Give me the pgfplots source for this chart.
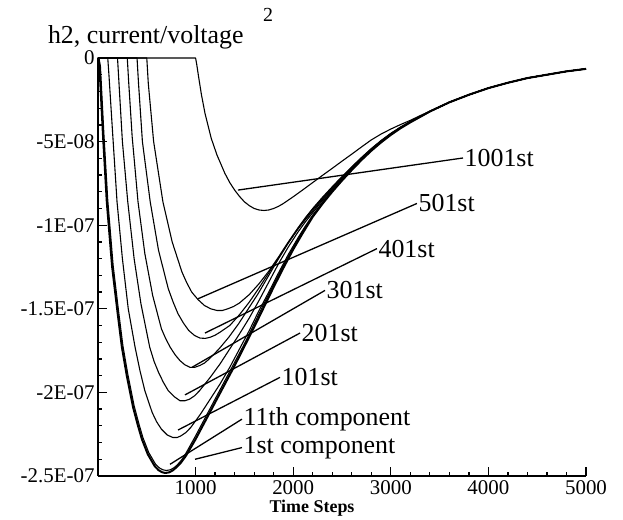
\documentclass[border=0pt]{standalone}
\usepackage{fontspec}
\setmainfont{Liberation Serif}
\usepackage{pgfplots}
\pgfplotsset{compat=1.18}
\begin{document}
\begin{tikzpicture}
\begin{axis}[
  scale only axis, width=488bp, height=418bp,
  xmin=0, xmax=5000, ymin=-2.5e-7, ymax=0,
  axis x line*=bottom, axis y line*=left,
  xtick={1000,2000,3000,4000,5000},
  xticklabels={1000,2000,3000,4000,5000},
  ytick={-2.5e-7,-2e-7,-1.5e-7,-1e-7,-5e-8,0},
  yticklabels={-2.5E-07,-2E-07,-1.5E-07,-1E-07,-5E-08,0},
  scaled y ticks=false, scaled x ticks=false,
  minor x tick num=4, minor y tick num=4,
  tick align=inside, major tick length=9bp, minor tick length=4bp,
  every tick/.style={black, line width=1.3bp},
  axis line style={line width=2.5bp},
  tick label style={font=\fontsize{21}{24}\selectfont},
  xticklabel style={yshift=-1bp},
  clip=false,
  cycle list={{black, no markers}},
  every axis plot/.append style={black, line width=1.1bp, line join=round},
]
% 1st component
\addplot[line width=2bp] coordinates {(0,0)(15,-0.05e-7)(50,-0.45e-7)(90,-0.86e-7)(145,-1.25e-7)(200,-1.52e-7)(245,-1.73e-7)(295,-1.9e-7)(360,-2.09e-7)(410,-2.2e-7)(450,-2.28e-7)(510,-2.37e-7)(580,-2.44e-7)(620,-2.465e-7)(655,-2.477e-7)(690,-2.482e-7)(730,-2.478e-7)(765,-2.467e-7)(800,-2.45e-7)(850,-2.42e-7)(900,-2.38e-7)(1000,-2.28e-7)(1100,-2.17e-7)(1200,-2.06e-7)(1300,-1.95e-7)(1400,-1.84e-7)(1500,-1.725e-7)(1600,-1.61e-7)(1700,-1.49e-7)(1800,-1.37e-7)(1900,-1.255e-7)(2000,-1.145e-7)(2100,-1.045e-7)(2200,-0.95e-7)(2300,-0.872e-7)(2400,-0.80e-7)(2500,-0.733e-7)(2600,-0.67e-7)(2700,-0.61e-7)(2800,-0.555e-7)(2900,-0.505e-7)(3000,-0.46e-7)(3100,-0.42e-7)(3200,-0.385e-7)(3400,-0.32e-7)(3600,-0.265e-7)(3800,-0.22e-7)(4000,-0.18e-7)(4200,-0.148e-7)(4400,-0.12e-7)(4600,-0.10e-7)(4800,-0.08e-7)(5000,-0.065e-7)};
% 11th component
\addplot coordinates {(0,0)(10,0)(25,-0.05e-7)(60,-0.45e-7)(100,-0.85e-7)(155,-1.24e-7)(210,-1.51e-7)(255,-1.72e-7)(305,-1.89e-7)(370,-2.08e-7)(420,-2.19e-7)(460,-2.27e-7)(520,-2.36e-7)(590,-2.43e-7)(630,-2.452e-7)(665,-2.463e-7)(700,-2.467e-7)(740,-2.463e-7)(775,-2.452e-7)(810,-2.435e-7)(855,-2.405e-7)(900,-2.365e-7)(1000,-2.26e-7)(1100,-2.15e-7)(1200,-2.04e-7)(1300,-1.93e-7)(1400,-1.82e-7)(1500,-1.71e-7)(1600,-1.59e-7)(1700,-1.47e-7)(1800,-1.355e-7)(1900,-1.24e-7)(2000,-1.135e-7)(2100,-1.035e-7)(2200,-0.945e-7)(2300,-0.868e-7)(2400,-0.797e-7)(2500,-0.73e-7)(2600,-0.668e-7)(2700,-0.608e-7)(2800,-0.553e-7)(2900,-0.503e-7)(3000,-0.459e-7)(3100,-0.419e-7)(3200,-0.384e-7)(3400,-0.32e-7)(3600,-0.265e-7)(3800,-0.22e-7)(4000,-0.18e-7)(4200,-0.148e-7)(4400,-0.12e-7)(4600,-0.10e-7)(4800,-0.08e-7)(5000,-0.065e-7)};
% 101st
\addplot coordinates {(0,0)(100,0)(112,-0.1e-7)(150,-0.45e-7)(195,-0.86e-7)(250,-1.2e-7)(310,-1.5e-7)(380,-1.73e-7)(430,-1.87e-7)(480,-1.99e-7)(555,-2.12e-7)(600,-2.175e-7)(650,-2.22e-7)(710,-2.255e-7)(768,-2.27e-7)(810,-2.27e-7)(850,-2.26e-7)(900,-2.24e-7)(950,-2.21e-7)(1050,-2.13e-7)(1150,-2.04e-7)(1250,-1.95e-7)(1350,-1.85e-7)(1450,-1.74e-7)(1550,-1.63e-7)(1650,-1.51e-7)(1750,-1.40e-7)(1850,-1.285e-7)(1950,-1.175e-7)(2050,-1.075e-7)(2125,-1.005e-7)(2200,-0.94e-7)(2300,-0.862e-7)(2400,-0.79e-7)(2500,-0.724e-7)(2600,-0.663e-7)(2700,-0.605e-7)(2800,-0.55e-7)(2900,-0.501e-7)(3000,-0.457e-7)(3100,-0.418e-7)(3200,-0.383e-7)(3400,-0.32e-7)(3600,-0.265e-7)(3800,-0.22e-7)(4000,-0.18e-7)(4200,-0.148e-7)(4400,-0.12e-7)(4600,-0.10e-7)(4800,-0.08e-7)(5000,-0.065e-7)};
% 201st
\addplot coordinates {(0,0)(200,0)(215,-0.15e-7)(250,-0.5e-7)(305,-0.86e-7)(370,-1.2e-7)(440,-1.47e-7)(530,-1.73e-7)(575,-1.815e-7)(620,-1.88e-7)(670,-1.94e-7)(720,-1.99e-7)(780,-2.025e-7)(840,-2.05e-7)(890,-2.05e-7)(940,-2.04e-7)(990,-2.02e-7)(1040,-1.99e-7)(1150,-1.91e-7)(1250,-1.83e-7)(1350,-1.74e-7)(1450,-1.65e-7)(1550,-1.555e-7)(1650,-1.45e-7)(1750,-1.34e-7)(1850,-1.23e-7)(1950,-1.13e-7)(2050,-1.04e-7)(2125,-0.98e-7)(2200,-0.925e-7)(2300,-0.852e-7)(2400,-0.785e-7)(2500,-0.72e-7)(2600,-0.66e-7)(2700,-0.602e-7)(2800,-0.548e-7)(2900,-0.499e-7)(3000,-0.455e-7)(3100,-0.417e-7)(3200,-0.382e-7)(3400,-0.32e-7)(3600,-0.265e-7)(3800,-0.22e-7)(4000,-0.18e-7)(4200,-0.148e-7)(4400,-0.12e-7)(4600,-0.10e-7)(4800,-0.08e-7)(5000,-0.065e-7)};
% 301st
\addplot coordinates {(0,0)(300,0)(315,-0.15e-7)(350,-0.47e-7)(410,-0.86e-7)(480,-1.17e-7)(560,-1.42e-7)(650,-1.62e-7)(695,-1.68e-7)(740,-1.73e-7)(790,-1.775e-7)(840,-1.81e-7)(890,-1.835e-7)(943,-1.85e-7)(990,-1.85e-7)(1040,-1.84e-7)(1090,-1.825e-7)(1140,-1.80e-7)(1240,-1.74e-7)(1340,-1.67e-7)(1440,-1.59e-7)(1540,-1.50e-7)(1640,-1.41e-7)(1740,-1.31e-7)(1840,-1.21e-7)(1940,-1.115e-7)(2040,-1.03e-7)(2120,-0.97e-7)(2200,-0.915e-7)(2300,-0.845e-7)(2400,-0.78e-7)(2500,-0.717e-7)(2600,-0.657e-7)(2700,-0.6e-7)(2800,-0.546e-7)(2900,-0.497e-7)(3000,-0.453e-7)(3100,-0.415e-7)(3200,-0.381e-7)(3400,-0.32e-7)(3600,-0.265e-7)(3800,-0.22e-7)(4000,-0.18e-7)(4200,-0.148e-7)(4400,-0.12e-7)(4600,-0.10e-7)(4800,-0.08e-7)(5000,-0.065e-7)};
% 401st
\addplot coordinates {(0,0)(400,0)(415,-0.15e-7)(455,-0.5e-7)(535,-0.86e-7)(620,-1.15e-7)(720,-1.38e-7)(770,-1.46e-7)(820,-1.53e-7)(875,-1.585e-7)(930,-1.63e-7)(990,-1.66e-7)(1045,-1.675e-7)(1100,-1.677e-7)(1150,-1.67e-7)(1200,-1.658e-7)(1250,-1.64e-7)(1350,-1.60e-7)(1450,-1.535e-7)(1550,-1.46e-7)(1650,-1.375e-7)(1750,-1.285e-7)(1850,-1.195e-7)(1950,-1.105e-7)(2050,-1.02e-7)(2125,-0.96e-7)(2200,-0.905e-7)(2300,-0.838e-7)(2400,-0.775e-7)(2500,-0.713e-7)(2600,-0.654e-7)(2700,-0.597e-7)(2800,-0.544e-7)(2900,-0.495e-7)(3000,-0.452e-7)(3100,-0.414e-7)(3200,-0.38e-7)(3400,-0.32e-7)(3600,-0.265e-7)(3800,-0.22e-7)(4000,-0.18e-7)(4200,-0.148e-7)(4400,-0.12e-7)(4600,-0.10e-7)(4800,-0.08e-7)(5000,-0.065e-7)};
% 501st
\addplot coordinates {(0,0)(500,0)(515,-0.15e-7)(570,-0.5e-7)(665,-0.86e-7)(760,-1.1e-7)(860,-1.28e-7)(910,-1.345e-7)(960,-1.40e-7)(1025,-1.445e-7)(1090,-1.48e-7)(1155,-1.5e-7)(1219,-1.51e-7)(1275,-1.51e-7)(1330,-1.50e-7)(1390,-1.486e-7)(1450,-1.465e-7)(1550,-1.415e-7)(1650,-1.35e-7)(1750,-1.275e-7)(1850,-1.19e-7)(1950,-1.1e-7)(2050,-1.015e-7)(2125,-0.955e-7)(2200,-0.9e-7)(2300,-0.833e-7)(2400,-0.77e-7)(2500,-0.709e-7)(2600,-0.651e-7)(2700,-0.595e-7)(2800,-0.542e-7)(2900,-0.494e-7)(3000,-0.451e-7)(3100,-0.413e-7)(3200,-0.38e-7)(3400,-0.32e-7)(3600,-0.265e-7)(3800,-0.22e-7)(4000,-0.18e-7)(4200,-0.148e-7)(4400,-0.12e-7)(4600,-0.10e-7)(4800,-0.08e-7)(5000,-0.065e-7)};
% 1001st
\addplot coordinates {(0,0)(1000,0)(1012,-0.04e-7)(1030,-0.11e-7)(1060,-0.22e-7)(1096,-0.33e-7)(1160,-0.48e-7)(1219,-0.58e-7)(1300,-0.69e-7)(1350,-0.745e-7)(1400,-0.79e-7)(1450,-0.828e-7)(1500,-0.86e-7)(1550,-0.883e-7)(1600,-0.9e-7)(1650,-0.909e-7)(1700,-0.912e-7)(1750,-0.909e-7)(1800,-0.9e-7)(1850,-0.887e-7)(1900,-0.87e-7)(2000,-0.83e-7)(2100,-0.788e-7)(2200,-0.745e-7)(2300,-0.702e-7)(2400,-0.66e-7)(2500,-0.617e-7)(2600,-0.575e-7)(2700,-0.532e-7)(2800,-0.49e-7)(2900,-0.455e-7)(3000,-0.425e-7)(3100,-0.398e-7)(3200,-0.373e-7)(3300,-0.345e-7)(3400,-0.318e-7)(3600,-0.265e-7)(3800,-0.22e-7)(4000,-0.18e-7)(4200,-0.148e-7)(4400,-0.12e-7)(4600,-0.10e-7)(4800,-0.08e-7)(5000,-0.065e-7)};
% leader lines and labels
\tikzset{lead/.style={line width=1.3bp}, lab/.style={anchor=west, inner sep=1bp, font=\fontsize{26}{28}\selectfont}}
\draw[lead] (axis cs:1434,-0.79e-7) -- (axis cs:3740,-0.598e-7) node[lab] {1001st};
\draw[lead] (axis cs:1025,-1.44e-7) -- (axis cs:3268,-0.87e-7) node[lab] {501st};
\draw[lead] (axis cs:1096,-1.645e-7) -- (axis cs:2858,-1.14e-7) node[lab] {401st};
\draw[lead] (axis cs:963,-1.85e-7) -- (axis cs:2326,-1.39e-7) node[lab] {301st};
\draw[lead] (axis cs:891,-2.015e-7) -- (axis cs:2070,-1.645e-7) node[lab] {201st};
\draw[lead] (axis cs:820,-2.225e-7) -- (axis cs:1865,-1.91e-7) node[lab] {101st};
\draw[lead] (axis cs:738,-2.43e-7) -- (axis cs:1475,-2.16e-7) node[lab] {11th component};
\draw[lead] (axis cs:994,-2.40e-7) -- (axis cs:1475,-2.33e-7) node[lab] {1st component};
\node[font=\fontsize{26}{28}\selectfont] at (axis cs:490,0.126e-7) {h2, current/voltage};
\node[font=\fontsize{20}{22}\selectfont] at (axis cs:1742,0.257e-7) {2};
\node[font=\bfseries\fontsize{18}{20}\selectfont] at (axis cs:2193,-2.69e-7) {Time Steps};
\end{axis}
\path (current axis.south west) ++(-98bp,-40bp) rectangle ++(623bp,516bp);
\end{tikzpicture}
\end{document}
